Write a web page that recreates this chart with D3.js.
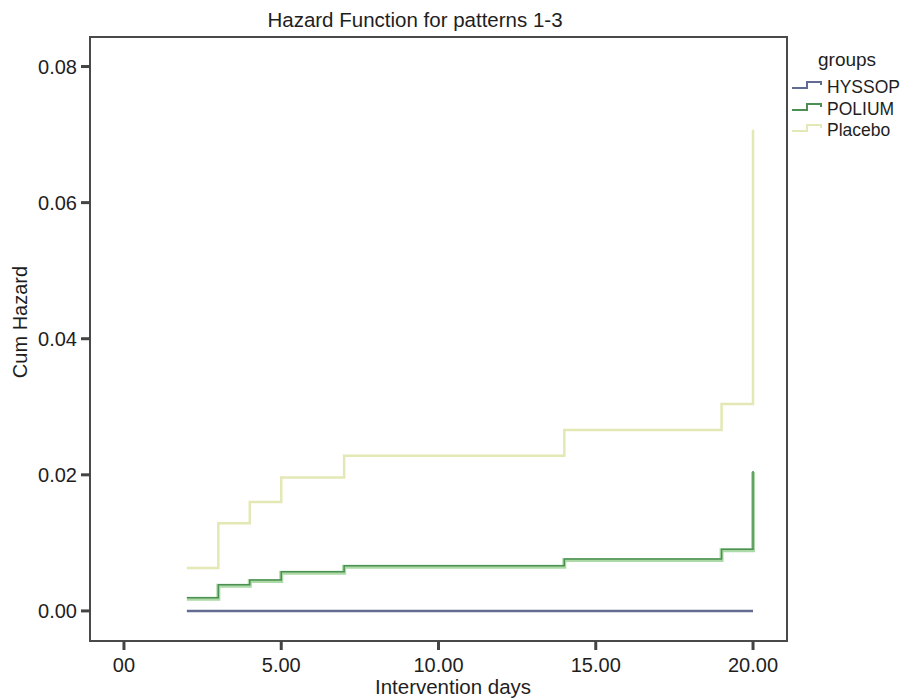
<!DOCTYPE html>
<html>
<head>
<meta charset="utf-8">
<script src="https://cdn.jsdelivr.net/npm/d3@7"></script>
<style>
  body { margin: 0; background: #fff; }
  text { font-family: "Liberation Sans", Arial, sans-serif; fill: #1e1e1e; }
</style>
</head>
<body>
<div id="chart"></div>
<script>
// step data (day where step starts, cum hazard)
const groups = ["HYSSOP", "POLIUM", "Placebo"];
const days = [2, 3, 4, 5, 7, 14, 19, 20];
const hyssop = [0, 0, 0, 0, 0, 0, 0, 0];
const polium = [0.0018, 0.0037, 0.0044, 0.0056, 0.0065, 0.0075, 0.0089, 0.0204];
const placebo = [0.0063, 0.0129, 0.0160, 0.0196, 0.0228, 0.0266, 0.0304, 0.0707];
const xTicks = [0, 5, 10, 15, 20];
const xTickLabels = ["00", "5.00", "10.00", "15.00", "20.00"];
const yTicks = [0, 0.02, 0.04, 0.06, 0.08];

const width = 905, height = 698;
const margin = {top: 37, right: 118, bottom: 57, left: 90};

const svg = d3.select("#chart")
    .append("svg")
    .attr("width", width)
    .attr("height", height);

const x = d3.scaleLinear()
    .domain([-1.08, 21.08])
    .range([margin.left, width - margin.right]);

const y = d3.scaleLinear()
    .domain([-0.00442, 0.08434])
    .range([height - margin.bottom, margin.top]);

// frame
svg.append("rect")
    .attr("x", margin.left)
    .attr("y", margin.top)
    .attr("width", width - margin.right - margin.left)
    .attr("height", height - margin.bottom - margin.top)
    .attr("fill", "none")
    .attr("stroke", "#4a4a4a")
    .attr("stroke-width", 2);

// y axis ticks and labels
svg.selectAll(".ytick")
    .data(yTicks)
    .enter()
    .append("line")
    .attr("x1", margin.left - 9)
    .attr("x2", margin.left)
    .attr("y1", d => y(d))
    .attr("y2", d => y(d))
    .attr("stroke", "#444")
    .attr("stroke-width", 3);

svg.selectAll(".ylab")
    .data(yTicks)
    .enter()
    .append("text")
    .attr("x", margin.left - 13)
    .attr("y", d => y(d) + 7)
    .attr("text-anchor", "end")
    .attr("font-size", "20px")
    .text(d => d3.format(".2f")(d));

// x axis ticks and labels
svg.selectAll(".xtick")
    .data(xTicks)
    .enter()
    .append("line")
    .attr("x1", d => x(d))
    .attr("x2", d => x(d))
    .attr("y1", height - margin.bottom)
    .attr("y2", height - margin.bottom + 9)
    .attr("stroke", "#444")
    .attr("stroke-width", 3);

svg.selectAll(".xlab")
    .data(xTicks)
    .enter()
    .append("text")
    .attr("x", d => x(d))
    .attr("y", height - margin.bottom + 31)
    .attr("text-anchor", "middle")
    .attr("font-size", "20px")
    .text((d, i) => xTickLabels[i]);

// titles
svg.append("text")
    .attr("x", 415)
    .attr("y", 27)
    .attr("text-anchor", "middle")
    .attr("font-size", "20.5px")
    .text("Hazard Function for patterns 1-3");

svg.append("text")
    .attr("x", 453)
    .attr("y", 694)
    .attr("text-anchor", "middle")
    .attr("font-size", "20.5px")
    .text("Intervention days");

svg.append("text")
    .attr("transform", "translate(27,322) rotate(-90)")
    .attr("text-anchor", "middle")
    .attr("font-size", "20px")
    .text("Cum Hazard");

// step lines
const stepLine = d3.line()
    .x(d => x(d[0]))
    .y(d => y(d[1]))
    .curve(d3.curveStepAfter);

function pts(vals) {
    return days.map((d, i) => [d, vals[i]]);
}

svg.append("path")
    .attr("d", stepLine(pts(placebo)))
    .attr("fill", "none")
    .attr("stroke", "#e4e8b4")
    .attr("stroke-width", 2.5);

svg.append("path")
    .attr("d", stepLine(pts(polium)))
    .attr("fill", "none")
    .attr("stroke", "#acdaa6")
    .attr("stroke-width", 4);

svg.append("path")
    .attr("d", stepLine(pts(polium)))
    .attr("transform", "translate(0,-1)")
    .attr("fill", "none")
    .attr("stroke", "#4c8f52")
    .attr("stroke-width", 1.5);

svg.append("path")
    .attr("d", stepLine(pts(hyssop)))
    .attr("fill", "none")
    .attr("stroke", "#646b92")
    .attr("stroke-width", 2.5);

// legend
const legend = svg.append("g");
legend.append("text")
    .attr("x", 818)
    .attr("y", 66)
    .attr("font-size", "19px")
    .text("groups");

const legendColors = ["#646b92", "#4c8f52", "#e4e8b4"];
const legendY = [93, 115, 136];

legend.selectAll(".lsym")
    .data(groups)
    .enter()
    .append("path")
    .attr("d", (d, i) => {
        const b = legendY[i] - 5;
        return `M792,${b} H807 V${b - 6} H821 V${b - 3}`;
    })
    .attr("fill", "none")
    .attr("stroke", (d, i) => legendColors[i])
    .attr("stroke-width", 2);

legend.selectAll(".ltext")
    .data(groups)
    .enter()
    .append("text")
    .attr("x", 827)
    .attr("y", (d, i) => legendY[i])
    .attr("font-size", "17.5px")
    .text(d => d);
</script>
</body>
</html>
